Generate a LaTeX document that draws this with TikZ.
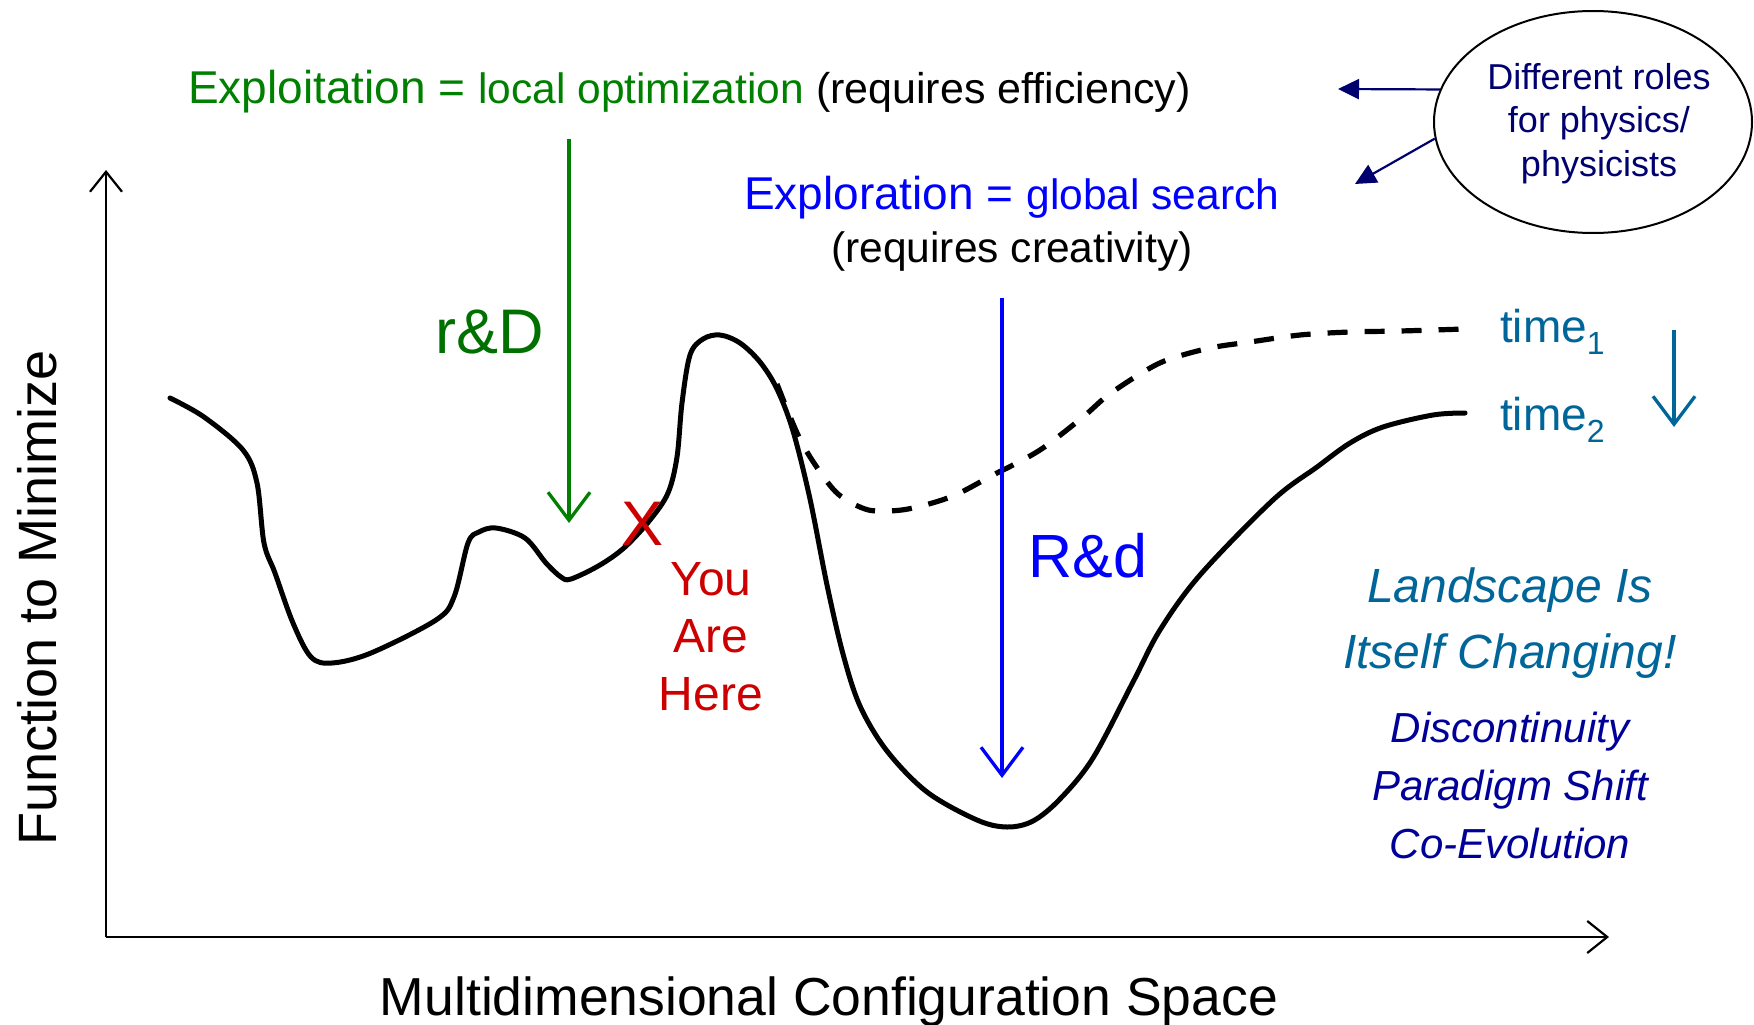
\documentclass[tikz,border=0pt]{standalone}
\usepackage{fontspec}
\setmainfont{Liberation Sans}
\usetikzlibrary{arrows.meta,shapes.geometric}
\definecolor{exgreen}{RGB}{0,128,0}
\definecolor{rdgreen}{RGB}{0,112,0}
\definecolor{exblue}{RGB}{0,0,255}
\definecolor{herered}{RGB}{204,0,0}
\definecolor{tealblue}{RGB}{0,102,153}
\definecolor{navyroles}{RGB}{0,0,110}
\definecolor{darkblue}{RGB}{0,0,153}
\newcommand{\fs}[1]{\fontsize{#1}{#1}\selectfont}
\begin{document}
\begin{tikzpicture}[x=1pt,y=-1pt,
  lbl/.style={inner sep=0pt, outer sep=0pt, anchor=base},
  axisline/.style={line width=2.2pt, -{Straight Barb[length=20pt,width=32pt,line width=2.2pt]}},
  bigarrow/.style={line width=3.3pt, -{Straight Barb[length=28pt,width=42pt,line width=3.3pt]}},
  rolearrow/.style={navyroles, line width=2.2pt, -{Triangle[length=21pt,width=20pt]}},
  landscape/.style={line width=5pt, line cap=round, line join=round},
  oldlandscape/.style={line width=5.2pt, dash pattern=on 20pt off 17pt}
]
\useasboundingbox (0,0) rectangle (1754,1025);
\fill[white] (0,0) rectangle (1754,1025);

% axes
\coordinate (origin) at (106,937);
\coordinate (ytop) at (106,170);
\coordinate (xend) at (1609,937);
\draw[axisline] (origin) -- (ytop);
\draw[axisline] (origin) -- (xend);
\node[lbl] (xlabel) at (829,1015) {\fs{53.5}Multidimensional Configuration Space};
\node[lbl, rotate=90] (ylabel) at (56,598) {\fs{54}Function to Minimize};

% landscape at time 2 (solid)
\draw[landscape] plot[smooth, tension=0.55] coordinates {
 (170,398) (204,417) (243,450) (257,483) (264,543) (275,573) (293,623) (311,657)
 (332,663) (371,653) (436,620) (454,597) (468,543) (479,532) (496,528) (525,538)
 (546,563) (561,577) (571,579) (600,565) (625,547) (650,520) (668,493) (677,457)
 (682,403) (690,355) (703,339) (720,335) (740,343) (760,362) (777,389) (793,431)
 (810,499) (827,585) (843,654) (860,706) (887,751) (927,792) (977,820) (1007,827)
 (1033,821) (1060,799) (1093,758) (1133,682) (1160,630) (1200,575) (1273,500)
 (1317,467) (1350,443) (1383,427) (1433,415) (1465,413)};

% landscape at time 1 (dashed)
\draw[oldlandscape] plot[smooth, tension=0.55] coordinates {
 (777,384) (798,435) (816,466) (838,494) (865,509) (887,511) (913,508) (953,496)
 (993,475) (1013,465) (1043,448) (1083,417) (1107,396) (1140,374) (1167,360)
 (1210,348) (1250,342) (1300,335) (1350,332) (1400,331) (1465,329)};

% exploitation
\node[lbl, anchor=base west] (exploit) at (188,103) {{\color{exgreen}\fs{46}Exploitation = }{\color{exgreen}\fs{42.5}local optimization }{\fs{43}(requires efficiency)}};
\coordinate (gtop) at (569,139);
\coordinate (gtip) at (569,523);
\draw[bigarrow, exgreen] (gtop) -- (gtip);
\node[lbl, text=rdgreen] (rD) at (490,353) {\fs{63}r\&D};

% exploration
\node[lbl, anchor=base west] (explore) at (744,209) {{\color{exblue}\fs{46}Exploration = }{\color{exblue}\fs{42.5}global search}};
\node[lbl] (creat) at (1012,262) {\fs{42.5}(requires creativity)};
\coordinate (btop) at (1002,298);
\coordinate (btip) at (1002,778);
\draw[bigarrow, exblue] (btop) -- (btip);
\node[lbl, text=exblue] (Rd) at (1088,577) {\fs{61}R\&d};

% you are here
\node[lbl, text=herered] (xmark) at (643,545) {\fs{63}X};
\node[lbl, text=herered] (you) at (711,595) {\fs{48}You};
\node[lbl, text=herered] (are) at (711,652) {\fs{48}Are};
\node[lbl, text=herered] (here) at (711,710) {\fs{48}Here};

% times
\node[lbl, anchor=base west, text=tealblue] (time1) at (1500,342) {\fs{46}time\raisebox{-12pt}{\fs{32}1}};
\node[lbl, anchor=base west, text=tealblue] (time2) at (1500,430) {\fs{46}time\raisebox{-12pt}{\fs{32}2}};
\coordinate (ttop) at (1674,330);
\coordinate (ttip) at (1674,427);
\draw[bigarrow, tealblue] (ttop) -- (ttip);

% roles ellipse
\node[draw, ellipse, line width=2pt, minimum width=318pt, minimum height=222pt, inner sep=0pt] (roles) at (1593,122) {};
\node[inner sep=0pt, align=center, text=navyroles, font=\fontsize{36}{43.5}\selectfont] (rolestext) at (1599,123.5)
  {Different roles\\for physics/\\physicists};
\coordinate (r1tip) at (1338,89);
\coordinate (r2tip) at (1355,184);
\draw[rolearrow] (roles.168) -- (r1tip);
\draw[rolearrow] (roles.186) -- (r2tip);

% landscape changing
\node[lbl, text=tealblue] (land1) at (1510,602) {\fs{48}\itshape Landscape Is};
\node[lbl, text=tealblue] (land2) at (1510,668) {\fs{48}\itshape Itself Changing!};
\node[lbl, text=darkblue] (disc) at (1510,742) {\fs{42}\itshape Discontinuity};
\node[lbl, text=darkblue] (para) at (1510,800) {\fs{42}\itshape Paradigm Shift};
\node[lbl, text=darkblue] (coev) at (1510,858) {\fs{42}\itshape Co-Evolution};
\end{tikzpicture}
\end{document}
